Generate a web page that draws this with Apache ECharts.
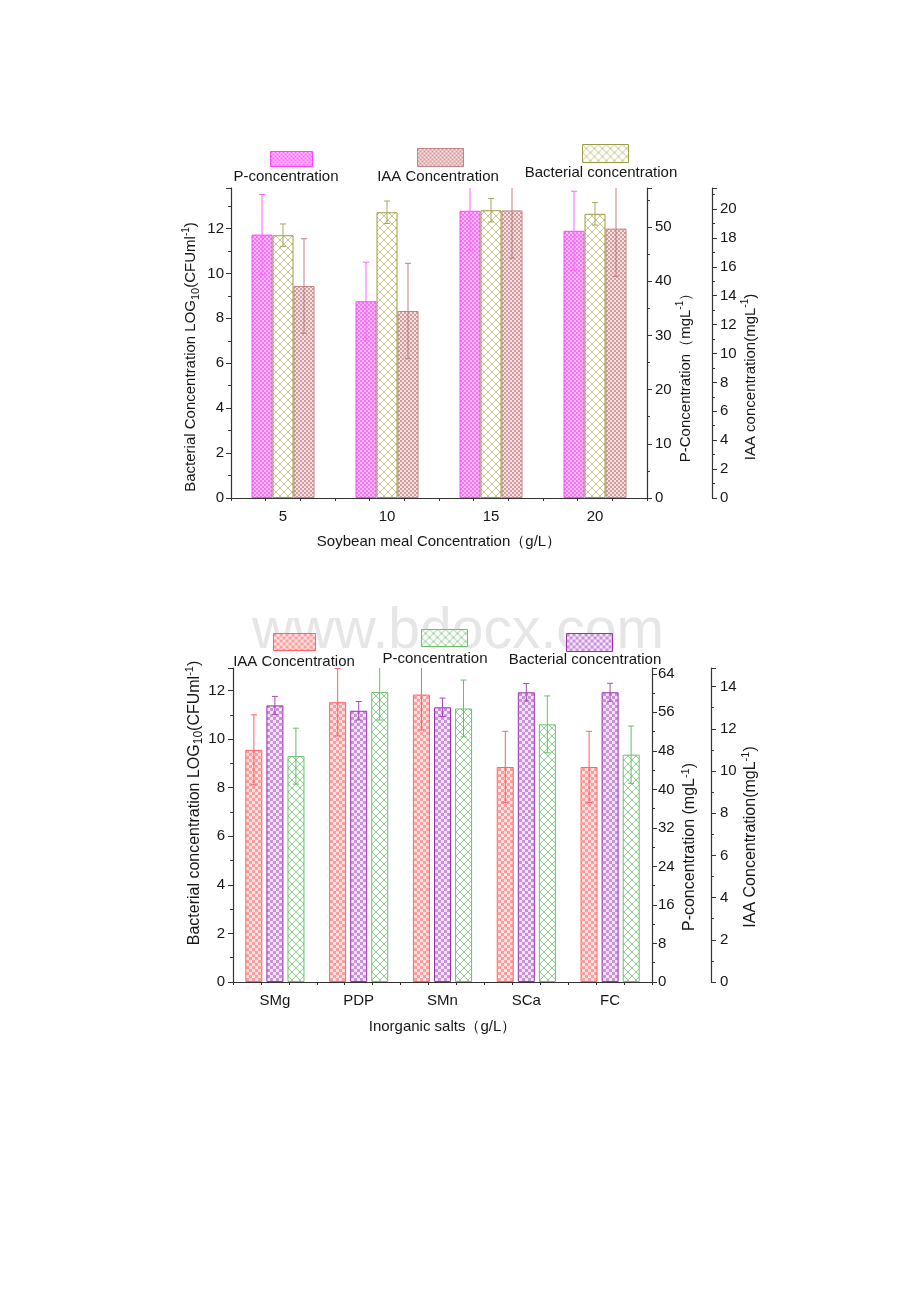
<!DOCTYPE html>
<html>
<head>
<meta charset="utf-8">
<script src="https://cdn.jsdelivr.net/npm/echarts@6/dist/echarts.min.js"></script>
<style>html,body{margin:0;padding:0;background:#fff;}#c{width:920px;height:1302px;}</style>
</head>
<body>
<div id="c"></div>
<script>
// ---------- Data: top chart (Soybean meal) ----------
const topCats = ['5', '10', '15', '20'];
const topP = [48.6, 36.3, 53.0, 49.3];
const topPErr = [7.4, 7.2, 7.3, 7.3];
const topBact = [11.70, 12.72, 12.81, 12.65];
const topBactErr = [0.5, 0.5, 0.52, 0.5];
const topIAA = [14.67, 12.94, 19.9, 18.64];
const topIAAErr = [3.27, 3.3, 3.3, 3.3];

// ---------- Data: bottom chart (Inorganic salts) ----------
const botCats = ['SMg', 'PDP', 'SMn', 'SCa', 'FC'];
const botIAA = [11.0, 13.26, 13.62, 10.19, 10.19];
const botIAAErr = [1.66, 1.6, 1.68, 1.69, 1.69];
const botBact = [11.39, 11.17, 11.31, 11.93, 11.93];
const botBactErr = [0.37, 0.38, 0.38, 0.36, 0.37];
const botP = [46.9, 60.2, 56.8, 53.5, 47.2];
const botPErr = [5.8, 5.8, 5.9, 5.9, 5.95];

const FONT = "'Liberation Sans', Arial, sans-serif";
const TXT = '#161616';

function checker(c1, c2, s) {
  const cv = document.createElement('canvas');
  cv.width = cv.height = 2 * s;
  const g = cv.getContext('2d');
  g.fillStyle = c2; g.fillRect(0, 0, 2 * s, 2 * s);
  g.fillStyle = c1; g.fillRect(0, 0, s, s); g.fillRect(s, s, s, s);
  return { image: cv, repeat: 'repeat' };
}
function lattice(c1, bg, n) {
  const cv = document.createElement('canvas');
  cv.width = cv.height = n;
  const g = cv.getContext('2d');
  g.fillStyle = bg; g.fillRect(0, 0, n, n);
  g.strokeStyle = c1; g.lineWidth = 1;
  g.beginPath(); g.moveTo(0, 0); g.lineTo(n, n); g.moveTo(n, 0); g.lineTo(0, n); g.stroke();
  return { image: cv, repeat: 'repeat' };
}

const sty = {
  pink:   { fill: checker('#ff6cff', '#ffc4ff', 2), border: '#ff44ff', err: '#ff66ff' },
  olive:  { fill: lattice('#c6c68a', '#ffffff', 8), border: '#9c9c44', err: '#a8a860' },
  brown:  { fill: checker('#d49c9c', '#f6e2e2', 2), border: '#c08686', err: '#c08080' },
  red:    { fill: checker('#ff9c9c', '#ffe6e6', 3), border: '#ff6464', err: '#ff6060' },
  purple: { fill: checker('#c892dc', '#f4e6f8', 3), border: '#9a30b0', err: '#a848b8' },
  green:  { fill: lattice('#8ed08e', '#ffffff', 8), border: '#6cc06c', err: '#66c066' }
};

function bar(name, vals, xIdx, yIdx, s, bw, gap) {
  return {
    type: 'bar', name: name, xAxisIndex: xIdx, yAxisIndex: yIdx,
    data: vals, barWidth: bw, barGap: gap,
    itemStyle: { color: s.fill, borderColor: s.border, borderWidth: 1 },
    z: 2
  };
}
function errs(vals, e, xIdx, yIdx, offset, color) {
  return {
    type: 'custom', xAxisIndex: xIdx, yAxisIndex: yIdx, clip: true, z: 3,
    data: vals.map((v, i) => [i, v - e[i], v + e[i]]),
    encode: { x: 0, y: [1, 2] },
    renderItem: function (params, api) {
      const lo = api.coord([api.value(0), api.value(1)]);
      const hi = api.coord([api.value(0), api.value(2)]);
      const x = lo[0] + offset;
      const st = { stroke: color, lineWidth: 1 };
      return {
        type: 'group', children: [
          { type: 'line', shape: { x1: x, y1: hi[1], x2: x, y2: lo[1] }, style: st },
          { type: 'line', shape: { x1: x - 3, y1: hi[1], x2: x + 3, y2: hi[1] }, style: st },
          { type: 'line', shape: { x1: x - 3, y1: lo[1], x2: x + 3, y2: lo[1] }, style: st }
        ]
      };
    }
  };
}

const richName = (fs) => ({
  n: { fontSize: fs, lineHeight: 20, fontFamily: FONT, color: TXT },
  sub: { fontSize: fs - 4, lineHeight: 11, verticalAlign: 'bottom', fontFamily: FONT, color: TXT },
  sup: { fontSize: fs - 5, lineHeight: 10, verticalAlign: 'top', fontFamily: FONT, color: TXT }
});

function yAx(grid, pos, offset, max, interval, name, gap, pad, margin, fs) {
  return {
    type: 'value', gridIndex: grid, position: pos, offset: offset,
    min: 0, max: max, interval: interval,
    name: name, nameLocation: 'middle', nameGap: gap, nameRotate: 90,
    nameTextStyle: { rich: richName(fs), padding: pad },
    axisLine: { show: true, onZero: false, lineStyle: { color: '#333', width: 1.2 } },
    axisTick: { show: true, inside: false, length: 5, lineStyle: { color: '#333' } },
    minorTick: { show: true, splitNumber: 2, length: 3, lineStyle: { color: '#333' } },
    axisLabel: { show: true, margin: margin, showMaxLabel: false, fontSize: 15, fontFamily: FONT, color: TXT },
    splitLine: { show: false }
  };
}
function xCat(grid, cats, name, gap) {
  return {
    type: 'category', gridIndex: grid, data: cats, position: 'bottom',
    name: name, nameLocation: 'middle', nameGap: gap,
    nameTextStyle: { fontSize: 15, fontFamily: FONT, color: TXT },
    axisLine: { onZero: false, lineStyle: { color: '#333', width: 1.2 } },
    axisTick: { alignWithLabel: true, length: 5, lineStyle: { color: '#333' } },
    axisLabel: { margin: 11, fontSize: 15, fontFamily: FONT, color: TXT },
    splitLine: { show: false }
  };
}
function xTicks(grid, n) {
  return {
    type: 'value', gridIndex: grid, position: 'bottom', min: -1.5, max: 3 * n - 1.5, interval: 1,
    axisLine: { show: false, onZero: false },
    axisTick: { show: true, length: 3, lineStyle: { color: '#333' } },
    axisLabel: { show: false }, splitLine: { show: false }
  };
}
function leg(name, left, top, w, h) {
  return {
    data: [name], left: left, top: top, itemWidth: w, itemHeight: h, padding: 0,
    icon: 'rect', formatter: () => '', selectedMode: false,
    itemStyle: { borderWidth: 1 },
    textStyle: { fontSize: 1 }
  };
}
function label(text, x, y) {
  return { type: 'text', z: 10, style: { text: text, x: x, y: y, textAlign: 'center', textVerticalAlign: 'middle', font: '15px ' + FONT, fill: TXT } };
}

const option = {
  animation: false,
  backgroundColor: '#fff',
  grid: [
    { left: 231, top: 188, width: 416, height: 310 },
    { left: 233, top: 668, width: 419, height: 314 }
  ],
  xAxis: [
    xCat(0, topCats, 'Soybean meal Concentration（g/L）', 36),
    xTicks(0, topCats.length),
    xCat(1, botCats, 'Inorganic salts（g/L）', 37),
    xTicks(1, botCats.length)
  ],
  yAxis: [
    yAx(0, 'left', 0, 13.8, 2, '{n|Bacterial Concentration LOG}{sub|10}{n|(CFUml}{sup|-1}{n|)}', 30, [0, 28, 0, 0], 7, 15),
    yAx(0, 'right', 0, 57.2, 10, '{n|P-Concentration（mgL}{sup|-1}{n|）}', 26, [0, 62, 0, 0], 8, 15),
    yAx(0, 'right', 65, 21.45, 2, '{n|IAA concentration(mgL}{sup|-1}{n|)}', 23, [0, 68, 0, 0], 8, 15),
    yAx(1, 'left', 0, 12.93, 2, '{n|Bacterial concentration LOG}{sub|10}{n|(CFUml}{sup|-1}{n|)}', 26, [0, 0, 0, 44], 8, 16),
    yAx(1, 'right', 0, 65.2, 8, '{n|P-concentration (mgL}{sup|-1}{n|)}', 28, [0, 44, 0, 0], 6, 16),
    yAx(1, 'right', 59, 14.88, 2, '{n|IAA Concentration(mgL}{sup|-1}{n|)}', 27, [0, 24, 0, 0], 9, 16)
  ],
  legend: [
    leg('P_top', 270, 151, 42, 15),
    leg('IAA_top', 417, 148, 46, 18),
    leg('Bact_top', 582, 144, 46, 18),
    leg('IAA_bot', 273, 633, 42, 17),
    leg('P_bot', 421, 629, 46, 17),
    leg('Bact_bot', 566, 633, 46, 18)
  ],
  graphic: [
    { type: 'text', z: 0, style: { text: 'www.bdocx.com', x: 458, y: 632, textAlign: 'center', textVerticalAlign: 'middle', font: '57px ' + FONT, fill: '#e6e6e6' } },
    label('P-concentration', 286, 177),
    label('IAA Concentration', 438, 177),
    label('Bacterial concentration', 601, 173),
    label('IAA Concentration', 294, 662),
    label('P-concentration', 435, 659),
    label('Bacterial concentration', 585, 660)
  ],
  series: [
    bar('P_top', topP, 0, 1, sty.pink, 21, '0%'),
    bar('Bact_top', topBact, 0, 0, sty.olive, 21, '0%'),
    bar('IAA_top', topIAA, 0, 2, sty.brown, 21, '0%'),
    errs(topP, topPErr, 0, 1, -21, sty.pink.err),
    errs(topBact, topBactErr, 0, 0, 0, sty.olive.err),
    errs(topIAA, topIAAErr, 0, 2, 21, sty.brown.err),

    bar('IAA_bot', botIAA, 2, 5, sty.red, 17, '24%'),
    bar('Bact_bot', botBact, 2, 3, sty.purple, 17, '24%'),
    bar('P_bot', botP, 2, 4, sty.green, 17, '24%'),
    errs(botIAA, botIAAErr, 2, 5, -21, sty.red.err),
    errs(botBact, botBactErr, 2, 3, 0, sty.purple.err),
    errs(botP, botPErr, 2, 4, 21, sty.green.err)
  ]
};

const chart = echarts.init(document.getElementById('c'), null, { renderer: 'canvas' });
chart.setOption(option);
</script>
</body>
</html>
